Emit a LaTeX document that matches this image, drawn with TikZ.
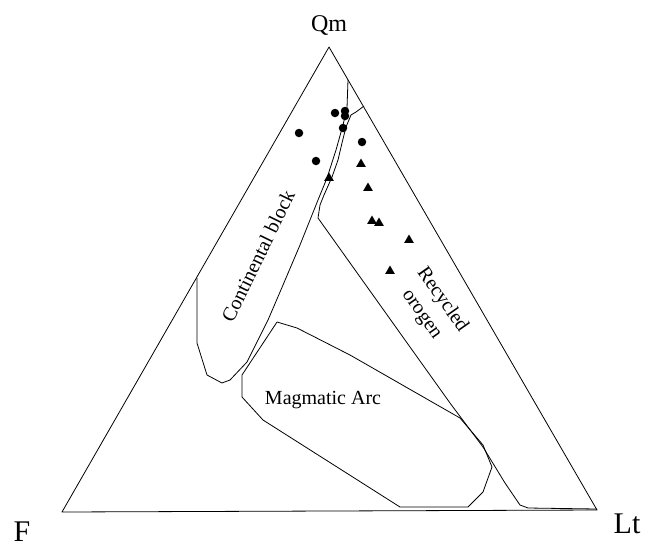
\documentclass[tikz,border=0pt]{standalone}
\usepackage{fontspec}
\setmainfont{Liberation Serif}
\usetikzlibrary{shapes.geometric}

\begin{document}
\begin{tikzpicture}[
		x=1pt, y=-1pt,
		field/.style={line width=0.8pt, line join=round},
		apexlab/.style={font=\fontsize{24}{28}\selectfont, inner sep=0pt},
		cornerlab/.style={font=\fontsize{30}{34}\selectfont, inner sep=0pt},
		fieldlab/.style={font=\fontsize{20}{25}\selectfont, align=center, inner sep=0pt},
		qmdot/.style={circle, fill=black, inner sep=0pt, minimum size=8.5pt},
		qmtri/.style={regular polygon, regular polygon sides=3, fill=black,
			inner sep=0pt, minimum size=11pt}
	]
	% page frame in pixel units, origin top left
	\useasboundingbox (0,0) rectangle (645,547);

	% Qm-F-Lt triangle
	\coordinate (qm) at (329,47);
	\coordinate (f) at (62,512);
	\coordinate (lt) at (597,510);
	\draw[field] (qm) -- (f) -- (lt) -- cycle;
	\node[apexlab] (qmlab) at (329,25) {Qm};
	\node[cornerlab] (flab) at (22,532) {F};
	\node[cornerlab] (ltlab) at (627,524) {Lt};

	% Continental block: leaves the right side near the apex and
	% comes back to the left side, the apex region is inside it
	\draw[field] (348,80) -- (347,108) -- (343,125) -- (336,150) -- (327,178)
		-- (318,200) -- (300,245) -- (283,285) -- (268,320) -- (247,362)
		-- (230,380) -- (222,383) -- (207,375) -- (197,343) -- (197,278);
	\node[fieldlab, rotate=64] (contlab) at (258,256) {Continental block};

	% Recycled orogen, runs down along the Qm-Lt side to the base
	\draw[field] (364,106) -- (356,112) -- (351,115) -- (346,127) -- (342,143)
		-- (338,160) -- (332,177) -- (324,195) -- (320,205) -- (318,218)
		-- (405,340) -- (450,403) -- (483,447) -- (505,483) -- (520,505)
		-- (528,508) -- (597,509);
	\node[fieldlab, rotate=-55] (recylab) at (432,307) {Recycled\\orogen};

	% Magmatic arc, closed
	\draw[field] (277,322) -- (297,328) -- (350,355) -- (460,418) -- (483,445)
		-- (492,467) -- (483,492) -- (468,507) -- (400,507) -- (263,420)
		-- (242,397) -- (242,375) -- cycle;
	\node[fieldlab] (maglab) at (323,400) {Magmatic Arc};

	% samples
	\foreach \px/\py [count=\i] in {335/113, 345/111, 345/116, 343/128,
		299/133, 362/142, 316/161}
		\node[qmdot] (c\i) at (\px,\py) {};
	\foreach \px/\py [count=\i] in {361/164, 329/178, 368/188, 372/221,
		379/223, 409/240, 390/271}
		\node[qmtri] (t\i) at (\px,\py) {};
\end{tikzpicture}
\end{document}
